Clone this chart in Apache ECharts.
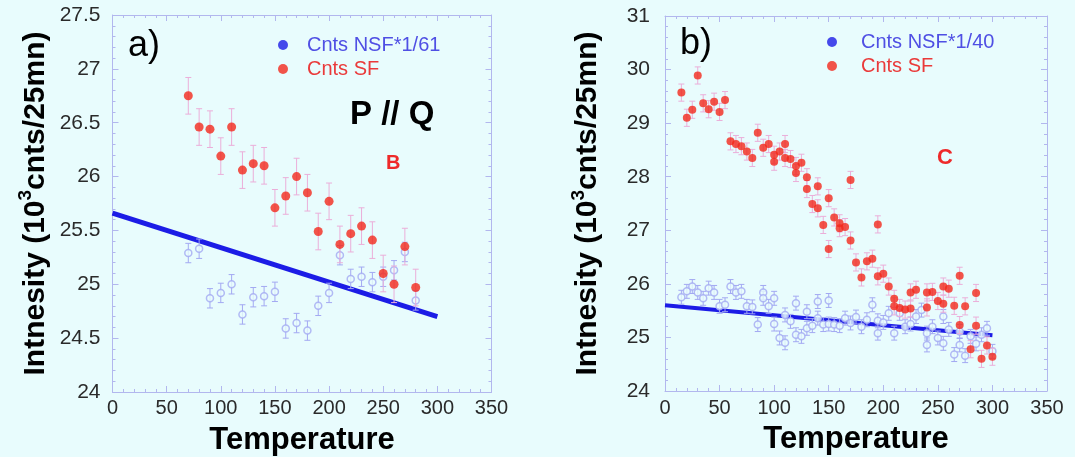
<!DOCTYPE html>
<html>
<head>
<meta charset="utf-8">
<script src="https://cdn.jsdelivr.net/npm/echarts@6/dist/echarts.min.js"></script>
<style>
html,body{margin:0;padding:0;background:#e8fcfd;}
#chart{width:1075px;height:465px;}
</style>
</head>
<body>
<div id="chart"></div>
<script>
// ---------- Panel a) data ----------
const leftT = [70,80,90,100,110,120,130,140,150,160,170,180,190,200,210,220,230,240,250,260,270,280];
const leftSF = [26.75,26.46,26.44,26.19,26.46,26.06,26.12,26.10,25.71,25.82,26.00,25.85,25.49,25.77,25.37,25.47,25.54,25.41,25.10,25.00,25.35,24.97];
const leftNSF = [25.29,25.33,24.87,24.92,25.00,24.72,24.88,24.89,24.93,24.59,24.64,24.57,24.80,24.92,25.27,25.05,25.07,25.02,25.07,25.13,25.30,24.85];
const leftFitT = [0, 300];
const leftFitV = [25.66, 24.70];
const leftSFErr = 0.17;
const leftNSFErr = 0.09;

// ---------- Panel b) data ----------
const rightSFT = [15,20,25,30,35,40,45,50,55,60,65,70,75,80,85,90,95,100,100,105,110,110,115,120,120,125,130,130,135,140,140,145,150,150,155,160,160,165,170,170,175,180,185,190,195,195,200,205,210,210,215,220,225,225,230,240,240,245,250,255,255,260,265,270,270,275,280,285,285,290,295,300];
const rightSFV = [29.57,29.10,29.25,29.89,29.37,29.26,29.40,29.21,29.43,28.66,28.61,28.57,28.47,28.35,28.82,28.54,28.61,28.41,28.28,28.47,28.61,28.35,28.33,28.20,28.07,28.26,27.99,27.77,27.49,27.82,27.41,27.10,27.60,26.65,27.24,27.13,27.04,27.06,26.81,27.94,26.40,26.12,26.42,26.47,27.11,26.14,26.19,25.95,25.72,25.58,25.55,25.52,25.54,25.84,25.89,25.84,25.56,25.85,25.68,25.95,25.63,25.91,25.59,26.15,25.23,25.58,24.78,25.83,25.22,24.60,24.85,24.64];
const rightNSFT = [15,20,25,30,35,40,45,50,55,60,65,70,75,80,85,90,90,95,100,100,105,110,110,115,120,120,125,130,130,135,140,140,145,150,150,155,160,165,170,175,180,185,190,195,195,200,205,210,215,220,225,230,235,240,240,245,250,255,255,260,265,270,270,275,280,285,290,295,300];
const rightNSFV = [25.75,25.86,25.95,25.84,25.73,25.92,25.84,25.58,25.61,25.95,25.84,25.86,25.58,25.57,25.24,25.84,25.73,25.58,25.73,25.25,24.99,25.42,24.90,25.30,25.64,25.05,25.02,25.48,25.17,25.22,25.67,25.36,25.24,25.69,25.25,25.24,25.22,25.36,25.27,25.38,25.20,25.33,25.61,25.08,25.31,25.28,25.45,25.08,25.45,25.20,25.25,25.39,25.51,25.08,24.86,25.20,24.99,25.39,24.89,25.15,24.68,25.11,24.86,24.66,25.02,24.88,25.05,25.17,24.74];
const rightFitT = [0, 300];
const rightFitV = [25.60, 25.04];
const rightSFErr = 0.16;
const rightNSFErr = 0.13;

// ---------- tick labels ----------
const xTicks = [0,50,100,150,200,250,300,350];
const leftYTicks = [24,24.5,25,25.5,26,26.5,27,27.5];
const rightYTicks = [24,25,26,27,28,29,30,31];

const BG = '#e8fcfd';
const FRAME = '#b2b7ee';
const RED = '#f2281c';
const PINK = '#ebaed9';
const LAV = '#a3a9f2';
const BLUE = '#1c1ce6';
const FONT = '"Liberation Sans", Arial, Helvetica, sans-serif';

function pairs(xs, ys){ return xs.map((x,i)=>[x, ys[i]]); }
function errData(xs, ys, e){ return xs.map((x,i)=>[x, ys[i], e]); }

function errRender(color, cap){
  return function(params, api){
    const x = api.value(0), y = api.value(1), e = api.value(2);
    const top = api.coord([x, y + e]);
    const bot = api.coord([x, y - e]);
    const st = {stroke: color, lineWidth: 1};
    return {type:'group', children:[
      {type:'line', shape:{x1:top[0],y1:top[1],x2:bot[0],y2:bot[1]}, style:st},
      {type:'line', shape:{x1:top[0]-cap,y1:top[1],x2:top[0]+cap,y2:top[1]}, style:st},
      {type:'line', shape:{x1:bot[0]-cap,y1:bot[1],x2:bot[0]+cap,y2:bot[1]}, style:st}
    ]};
  };
}

function mainX(gi, margin){
  return {gridIndex:gi, type:'value', min:xTicks[0], max:xTicks[xTicks.length-1], interval:50,
    axisLine:{show:true, onZero:false, lineStyle:{color:FRAME}},
    axisTick:{show:true, inside:true, length:6, lineStyle:{color:FRAME}},
    minorTick:{show:true, splitNumber:5, length:3, lineStyle:{color:FRAME}},
    splitLine:{show:false},
    axisLabel:{color:'#2a2a2a', fontSize:20, fontFamily:FONT, margin:margin},
    name:'Temperature', nameLocation:'middle', nameGap:33,
    nameTextStyle:{color:'#000', fontSize:31, fontWeight:'bold', fontFamily:FONT}};
}
function topX(gi){
  return {gridIndex:gi, type:'value', position:'top', min:xTicks[0], max:xTicks[xTicks.length-1], interval:50,
    axisLine:{show:true, onZero:false, lineStyle:{color:FRAME}},
    axisTick:{show:true, inside:true, length:6, lineStyle:{color:FRAME}},
    minorTick:{show:true, splitNumber:5, length:3, lineStyle:{color:FRAME}},
    splitLine:{show:false}, axisLabel:{show:false}};
}
function mainY(gi, ticks, interval, margin){
  return {gridIndex:gi, type:'value', min:ticks[0], max:ticks[ticks.length-1], interval:interval,
    axisLine:{show:true, onZero:false, lineStyle:{color:FRAME}},
    axisTick:{show:true, inside:true, length:6, lineStyle:{color:FRAME}},
    minorTick:{show:true, splitNumber:5, length:3, lineStyle:{color:FRAME}},
    splitLine:{show:false},
    axisLabel:{color:'#2a2a2a', fontSize:21, fontFamily:FONT, margin:margin},
    name:'{a|Intnesity (10}{s|3}{a|cnts/25mn)}', nameLocation:'middle', nameGap:62, nameRotate:90,
    nameTextStyle:{color:'#000', fontSize:30, fontWeight:'bold', fontFamily:FONT,
      rich:{
        a:{fontSize:30, fontWeight:'bold', fontFamily:FONT, color:'#000', verticalAlign:'bottom', lineHeight:34},
        s:{fontSize:19, fontWeight:'bold', fontFamily:FONT, color:'#000', verticalAlign:'top', lineHeight:19}
      }}};
}
function rightY(gi, ticks, interval){
  return {gridIndex:gi, type:'value', position:'right', min:ticks[0], max:ticks[ticks.length-1], interval:interval,
    axisLine:{show:true, onZero:false, lineStyle:{color:FRAME}},
    axisTick:{show:true, inside:true, length:6, lineStyle:{color:FRAME}},
    minorTick:{show:true, splitNumber:5, length:3, lineStyle:{color:FRAME}},
    splitLine:{show:false}, axisLabel:{show:false}};
}

const chart = echarts.init(document.getElementById('chart'), null, {renderer:'canvas'});
chart.setOption({
  backgroundColor: BG,
  animation: false,
  textStyle:{fontFamily:FONT},
  grid:[
    {left:112.5, top:15, width:379, height:377},
    {left:665, top:16, width:382, height:375}
  ],
  xAxis:[ mainX(0,6), topX(0), mainX(1,7), topX(1) ],
  yAxis:[ mainY(0,leftYTicks,0.5,12), rightY(0,leftYTicks,0.5), mainY(1,rightYTicks,1,15), rightY(1,rightYTicks,1) ],
  legend:[
    {orient:'vertical', left:273, top:30, itemWidth:10, itemHeight:10, itemGap:4, icon:'circle',
     selectedMode:false,
     textStyle:{fontSize:20, fontFamily:FONT, padding:[0,0,0,14]},
     data:[
       {name:'Cnts NSF*1/61', itemStyle:{color:BLUE, borderWidth:0}, textStyle:{color:'#4f4fe4'}},
       {name:'Cnts SF', itemStyle:{color:RED}, textStyle:{color:'#ea3a3a'}}
     ]},
    {orient:'vertical', left:822, top:27, itemWidth:10, itemHeight:10, itemGap:4, icon:'circle',
     selectedMode:false,
     textStyle:{fontSize:20, fontFamily:FONT, padding:[0,0,0,19]},
     data:[
       {name:'Cnts NSF*1/40', itemStyle:{color:BLUE, borderWidth:0}, textStyle:{color:'#4f4fe4'}},
       {name:'Cnts SF ', itemStyle:{color:RED}, textStyle:{color:'#ea3a3a'}}
     ]}
  ],
  graphic:[
    {type:'rect', shape:{x:0,y:457,width:1075,height:8}, style:{fill:'#ffffff'}, silent:true},
    {type:'text', left:128, top:28, style:{text:'a)', fontSize:36, fontFamily:FONT, fill:'#000'}},
    {type:'text', left:680, top:26, style:{text:'b)', fontSize:36, fontFamily:FONT, fill:'#000'}},
    {type:'text', left:350, top:98, style:{text:'P // Q', fontSize:33, fontWeight:'bold', fontFamily:FONT, fill:'#000'}},
    {type:'text', left:386, top:153, style:{text:'B', fontSize:20, fontWeight:'bold', fontFamily:FONT, fill:'#ee2a2a'}},
    {type:'text', left:937, top:147, style:{text:'C', fontSize:22, fontWeight:'bold', fontFamily:FONT, fill:'#ee2a2a'}}
  ],
  series:[
    // ---- panel a ----
    {name:'fitA', type:'line', xAxisIndex:0, yAxisIndex:0, data:pairs(leftFitT,leftFitV),
     symbol:'none', lineStyle:{color:BLUE, width:5}, z:1, silent:true},
    {type:'custom', xAxisIndex:0, yAxisIndex:0, renderItem:errRender(LAV,3), data:errData(leftT,leftNSF,leftNSFErr), z:2, silent:true},
    {name:'Cnts NSF*1/61', type:'scatter', xAxisIndex:0, yAxisIndex:0, data:pairs(leftT,leftNSF),
     symbol:'circle', symbolSize:7, itemStyle:{color:BG, borderColor:LAV, borderWidth:1.5}, z:3},
    {type:'custom', xAxisIndex:0, yAxisIndex:0, renderItem:errRender(PINK,3), data:errData(leftT,leftSF,leftSFErr), z:4, silent:true},
    {name:'Cnts SF', type:'scatter', xAxisIndex:0, yAxisIndex:0, data:pairs(leftT,leftSF),
     symbol:'circle', symbolSize:9, itemStyle:{color:RED}, z:5},
    // ---- panel b ----
    {name:'fitB', type:'line', xAxisIndex:2, yAxisIndex:2, data:pairs(rightFitT,rightFitV),
     symbol:'none', lineStyle:{color:BLUE, width:4}, z:1, silent:true},
    {type:'custom', xAxisIndex:2, yAxisIndex:2, renderItem:errRender(LAV,3), data:errData(rightNSFT,rightNSFV,rightNSFErr), z:2, silent:true},
    {name:'Cnts NSF*1/40', type:'scatter', xAxisIndex:2, yAxisIndex:2, data:pairs(rightNSFT,rightNSFV),
     symbol:'circle', symbolSize:7, itemStyle:{color:BG, borderColor:LAV, borderWidth:1.5}, z:3},
    {type:'custom', xAxisIndex:2, yAxisIndex:2, renderItem:errRender(PINK,3), data:errData(rightSFT,rightSFV,rightSFErr), z:4, silent:true},
    {name:'Cnts SF ', type:'scatter', xAxisIndex:2, yAxisIndex:2, data:pairs(rightSFT,rightSFV),
     symbol:'circle', symbolSize:8, itemStyle:{color:RED}, z:5}
  ]
});
</script>
</body>
</html>
